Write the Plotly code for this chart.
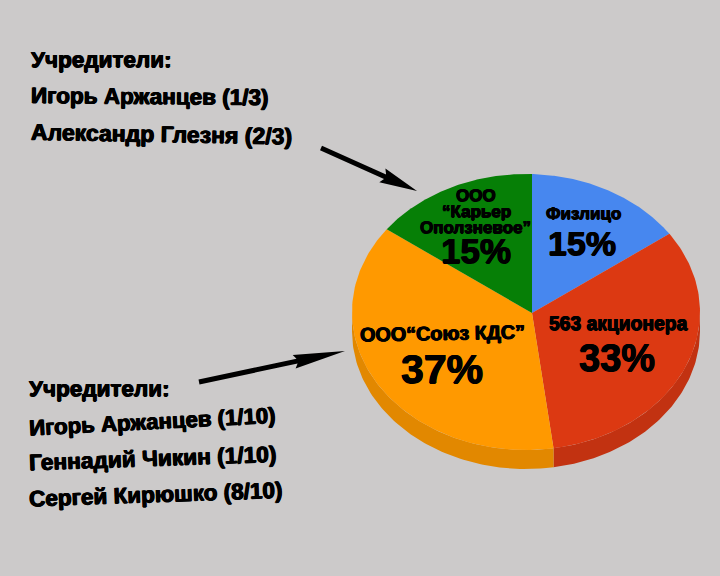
import numpy as np
import plotly.graph_objects as go

# data
slice_labels = ["Физлицо", "563 акционера", "ООО“Союз КДС”", "ООО “Карьер Оползневое”"]
slice_shares = [15, 33, 37, 15]
top_colors = ["#4787ef", "#dc3912", "#ff9900", "#067f06"]
wall_colors = ["#3f78d4", "#c23211", "#e28800", "#067006"]

founders_top = ["Учредители:", "Игорь Аржанцев (1/3)", "Александр Глезня (2/3)"]
founders_bottom = ["Учредители:", "Игорь Аржанцев (1/10)", "Геннадий Чикин (1/10)", "Сергей Кирюшко (8/10)"]

BG = "#cccaca"
FONT = "Liberation Sans"

# pie geometry in page pixels, the ellipse is a bit off the slices' meeting point
cx, cy, rx, ry = 526, 312, 174, 138
vx, vy = 532, 313
depth = 19


def rim(angles):
    # ray from the meeting point to the edge of the ellipse, angles clockwise from top
    ux, uy = (vx - cx) / rx, (vy - cy) / ry
    dx, dy = np.sin(angles), -np.cos(angles)
    b = ux * dx + uy * dy
    s = -b + np.sqrt(b * b - (ux * ux + uy * uy - 1))
    return vx + rx * s * dx, vy + ry * s * dy


fig = go.Figure()

edges = np.radians(np.cumsum([0] + slice_shares) * 3.6)

# side wall first, only where the rim faces the viewer
for i in range(len(slice_shares)):
    a = np.linspace(edges[i], edges[i + 1], 120)
    x, y = rim(a)
    keep = y >= cy
    if keep.sum() < 2:
        continue
    x, y = x[keep], y[keep]
    fig.add_trace(go.Scatter(
        x=np.r_[x, x[::-1]], y=np.r_[y, y[::-1] + depth],
        mode="lines", fill="toself", fillcolor=wall_colors[i],
        line=dict(width=0), hoverinfo="skip", showlegend=False))

# top surface
for i in range(len(slice_shares)):
    a = np.linspace(edges[i], edges[i + 1], 120)
    x, y = rim(a)
    fig.add_trace(go.Scatter(
        x=np.r_[vx, x, vx], y=np.r_[vy, y, vy],
        mode="lines", fill="toself", fillcolor=top_colors[i],
        line=dict(width=0), name=slice_labels[i],
        hoverinfo="name", showlegend=False))


def label(text, x, y, size, angle=0, anchor="center", thick=0.6):
    fig.add_annotation(
        x=x, y=y, text=text, showarrow=False, xanchor=anchor, yanchor="middle",
        textangle=angle, borderpad=0, borderwidth=0,
        font=dict(family=FONT, size=size, color="black", weight="bold",
                  shadow=f"{thick}px 0 0 black, -{thick}px 0 0 black, 0 {thick}px 0 black"))


# slice texts
label(slice_labels[0], 583, 213, 17)
label(f"{slice_shares[0]}%", 582, 243, 34)
label(slice_labels[1], 618, 323, 19.3)
label(f"{slice_shares[1]}%", 617, 358, 38)
label(slice_labels[2], 442, 333, 19.8, -1)
label(f"{slice_shares[2]}%", 442, 369, 41)
label("ООО", 476, 195, 17)
label("“Карьер", 476, 211, 17)
label("Оползневое”", 475, 227, 17)
label(f"{slice_shares[3]}%", 476, 250, 35)

# founders, left aligned, slightly tilted like the scan
for text, y, size, ang in zip(founders_top, [59, 96, 134], [22.5, 22.5, 23], [0, 0.5, 1]):
    label(text, 31, y, size, ang, "left")
for text, y, size, ang in zip(founders_bottom, [388, 421, 458, 494], [22.5, 22.2, 22.7, 22.5], [0, -3, -2, -2]):
    label(text, 29, y, size, ang, "left")


def arrow(tail, tip, head_len, head_w, shaft=5):
    # drawn as a path because annotation heads cannot be this narrow
    t, p = np.array(tail, float), np.array(tip, float)
    d = (p - t) / np.hypot(*(p - t))
    n = np.array([-d[1], d[0]])
    base = p - d * head_len
    neck = base + d * 3
    pts = [t + n * shaft / 2, neck + n * shaft / 2, base + n * head_w / 2, p,
           base - n * head_w / 2, neck - n * shaft / 2, t - n * shaft / 2]
    path = "M" + "L".join(f"{a:.1f},{b:.1f}" for a, b in pts) + "Z"
    fig.add_shape(type="path", path=path, fillcolor="black", line=dict(width=0),
                  xref="x", yref="y")


arrow((321, 148), (417, 191), 38, 15)
arrow((199, 382), (345, 351), 52, 14)

fig.update_xaxes(range=[0, 720], visible=False, fixedrange=True)
fig.update_yaxes(range=[576, 0], visible=False, fixedrange=True)
fig.update_layout(
    width=720, height=576, margin=dict(l=0, r=0, t=0, b=0),
    paper_bgcolor=BG, plot_bgcolor=BG, showlegend=False)

# the page's default body margin would shift everything by 8px
fig.write_html("out.html", config=dict(displayModeBar=False),
               post_script="document.body.style.margin='0';document.body.style.overflow='hidden';")
